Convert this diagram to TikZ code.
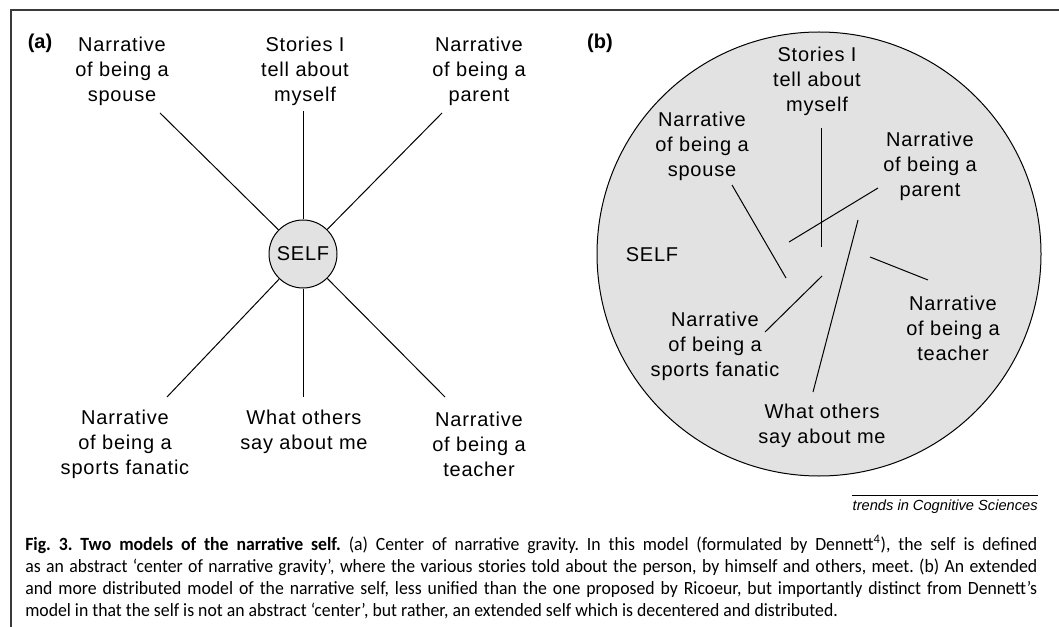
\documentclass[tikz,border=0pt]{standalone}
\usepackage{fontspec}
\setmainfont{Liberation Sans}
\newfontfamily\labfont[LetterSpace=4]{Liberation Sans}
\newfontfamily\capfont[FakeStretch=0.95]{Carlito}
\definecolor{selfgray}{HTML}{E2E2E2}
\definecolor{framegray}{HTML}{3A3A3A}
\newcommand{\capline}[1]{\makebox[759pt][s]{#1}}
\frenchspacing
\begin{document}
\begin{tikzpicture}[x=0.75pt,y=-0.75pt,
  lab/.style={font=\labfont\fontsize{15}{18.75}\selectfont, align=center, inner sep=0pt},
  panel/.style={font=\bfseries\fontsize{15}{18}\selectfont, inner sep=0pt},
  conn/.style={line width=0.75pt, black},
  selfcirc/.style={circle, draw=black, fill=selfgray, line width=0.75pt, inner sep=0pt, minimum size=51pt},
  bigcirc/.style={circle, draw=black, fill=selfgray, line width=0.75pt, inner sep=0pt, minimum size=333pt}]
\useasboundingbox (0,0) rectangle (1059,627);
% frame
\coordinate (ftl) at (11,10);
\coordinate (ftr) at (1059,10);
\coordinate (fbl) at (11,627);
\draw[framegray, line width=1.5pt] (ftr) -- (ftl) -- (fbl);

% ---------- panel (a)
\node[panel] (pa) at (40,43) {(a)};
\node[selfcirc, font=\labfont\fontsize{15}{18}\selectfont] (selfa) at (303,254) {SELF};
\node[lab] (a1) at (122,71) {Narrative\\of being a\\spouse};
\node[lab] (a2) at (305,71) {Stories I\\tell about\\myself};
\node[lab] (a3) at (479,71) {Narrative\\of being a\\parent};
\node[lab] (a4) at (125,444) {Narrative\\of being a\\sports fanatic};
\node[lab] (a5) at (304,432) {What others\\say about me};
\node[lab] (a6) at (479,444) {Narrative\\of being a\\teacher};
\coordinate (ea1) at (160,113);
\coordinate (ea2) at (303,111);
\coordinate (ea3) at (442,113);
\coordinate (ea4) at (167,397);
\coordinate (ea5) at (303,397);
\coordinate (ea6) at (445,397);
\foreach \i in {1,...,6} \draw[conn] (ea\i) -- (selfa);

% ---------- panel (b)
\node[bigcirc] (selfb) at (819,254) {};
\node[panel] (pb) at (600,43) {(b)};
\node[font=\labfont\fontsize{15}{18}\selectfont, inner sep=0pt] (selfbl) at (652,255) {SELF};
\node[lab] (b1) at (817,81) {Stories I\\tell about\\myself};
\node[lab] (b2) at (702,146) {Narrative\\of being a\\spouse};
\node[lab] (b3) at (930,166) {Narrative\\of being a\\parent};
\node[lab] (b4) at (715,346) {Narrative\\of being a\\sports fanatic};
\node[lab] (b5) at (822,426) {What others\\say about me};
\node[lab] (b6) at (953,328) {Narrative\\of being a\\teacher};
\coordinate (s1) at (821,128); \coordinate (t1) at (821,247);
\coordinate (s2) at (732,185); \coordinate (t2) at (786,278);
\coordinate (s3) at (878,188); \coordinate (t3) at (789,242);
\coordinate (s5) at (813,392); \coordinate (t5) at (858,220);
\coordinate (s6) at (928,280); \coordinate (t6) at (870,257);
\coordinate (s4) at (765,332); \coordinate (t4) at (822,276);
\foreach \i in {1,...,6} \draw[conn] (s\i) -- (t\i);

% ---------- source label
\node[font=\itshape\fontsize{11}{13}\selectfont, inner sep=0pt, anchor=east] (src) at (1038,507) {trends in Cognitive Sciences};
\draw[line width=0.75pt] ([yshift=3pt]src.north west) -- ([yshift=3pt]src.north east);

% ---------- caption
\node[anchor=north west, inner sep=0pt, align=left,
      font=\capfont\fontsize{14}{16.5}\selectfont\frenchspacing] (cap) at (25,535)
{\capline{\textbf{Fig. 3. Two models of the narrative self.} (a) Center of narrative gravity. In this model (formulated by Dennett\textsuperscript{4}), the self is defined}\\
\capline{as an abstract ‘center of narrative gravity’, where the various stories told about the person, by himself and others, meet. (b) An extended}\\
\capline{and more distributed model of the narrative self, less unified than the one proposed by Ricoeur, but importantly distinct from Dennett’s}\\
model in that the self is not an abstract ‘center’, but rather, an extended self which is decentered and distributed.};
\end{tikzpicture}
\end{document}
